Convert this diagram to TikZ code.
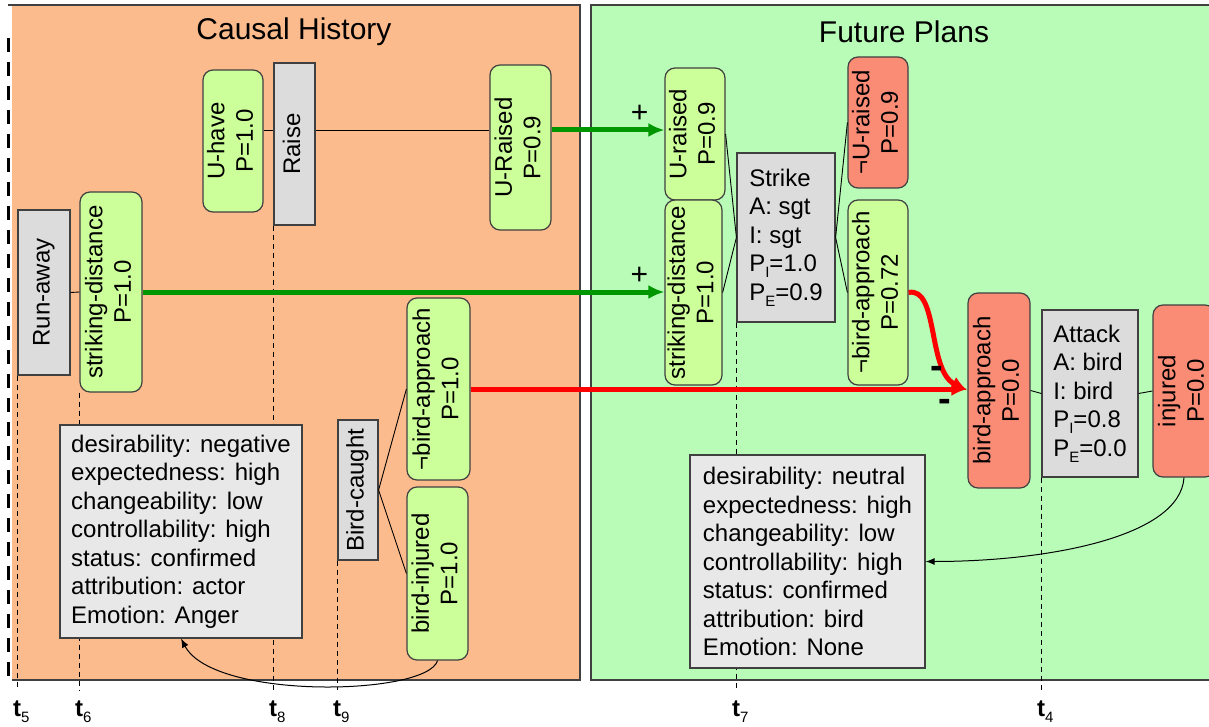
\documentclass[tikz,border=0pt]{standalone}
\usepackage{fontspec}
\setmainfont{Liberation Sans}
\usepackage{graphicx}
\usetikzlibrary{arrows.meta,calc}

\definecolor{histbg}{RGB}{252,187,141}
\definecolor{planbg}{RGB}{184,252,184}
\definecolor{condgreen}{RGB}{204,255,153}
\definecolor{condred}{RGB}{250,140,118}
\definecolor{actgray}{RGB}{220,220,220}
\definecolor{emogray}{RGB}{232,232,232}
\definecolor{posgreen}{RGB}{0,150,0}
\definecolor{edge}{RGB}{64,64,64}

\newcommand{\vtext}[1]{\rotatebox{90}{\begin{tabular}{@{}c@{}}#1\end{tabular}}}
\newcommand{\psub}[1]{P\raisebox{-0.45ex}{\fontsize{15}{15}\selectfont #1}}
\newcommand{\tsub}[1]{\textbf{t}\raisebox{-0.45ex}{\fontsize{15}{15}\selectfont #1}}

\tikzset{
  cond/.style={draw=edge, line width=1.2pt, rounded corners=10pt, fill=condgreen, inner sep=0pt},
  negcond/.style={cond, fill=condred},
  act/.style={draw=edge, line width=1.2pt, fill=actgray, inner sep=0pt},
  info/.style={act, align=left},
  emobox/.style={draw=edge, line width=1.2pt, fill=emogray, align=left, inner sep=0pt},
  link/.style={black, line width=0.9pt},
  tline/.style={black, line width=1pt, dash pattern=on 5pt off 4pt},
  tlab/.style={inner sep=0pt},
  posarrow/.style={posgreen, line width=5pt, -{Latex[length=16pt,width=14pt]}},
  negarrow/.style={red, line width=5pt, -{Latex[length=16pt,width=14pt]}},
  infarrow/.style={black, line width=1pt, -{Latex[length=9pt,width=7pt]}},
  plus/.style={black, inner sep=0pt, font=\fontsize{30}{30}\selectfont},
  sign/.style={black, inner sep=0pt, font=\fontsize{38}{38}\selectfont\bfseries}
}

\begin{document}
\begin{tikzpicture}[x=1pt, y=-1pt, font=\fontsize{24}{28.5}\selectfont]
\useasboundingbox (0,0) rectangle (1209,727);

\fill[histbg] (12,5) rectangle (580,680);
\draw[edge, line width=1.2pt] (8,5) -- (580,5) -- (580,680) -- (12,680);
\draw[line width=3pt, dash pattern=on 14pt off 10pt] (8,38) -- (8,680);
\fill[planbg] (591,5) rectangle (1215,680);
\draw[edge, line width=1.2pt] (1215,5) -- (591,5) -- (591,680) -- (1215,680);
\node[font=\fontsize{30}{36}\selectfont] (histtitle) at (294,32) {Causal History};
\node[font=\fontsize{30}{36}\selectfont] (plantitle) at (904,32) {Future Plans};

\node[cond, minimum width=60pt, minimum height=142pt] (uhave) at (233,141) {\vtext{U-have\\P=1.0}};
\node[act, minimum width=41pt, minimum height=162pt] (raise) at (294.5,144) {\vtext{Raise}};
\node[cond, minimum width=61pt, minimum height=165pt] (uraisedA) at (520.5,147.5) {\vtext{U-Raised\\P=0.9}};
\node[act, minimum width=52pt, minimum height=165pt] (runaway) at (44,292.5) {\vtext{Run-away}};
\node[cond, minimum width=62pt, minimum height=200pt] (strikingA) at (111,292) {\vtext{striking-distance\\P=1.0}};
\node[cond, minimum width=63pt, minimum height=182pt] (nbirdA) at (438.5,389) {\vtext{¬bird-approach\\P=1.0}};
\node[cond, minimum width=61pt, minimum height=173pt] (injuredA) at (437.5,573.5) {\vtext{bird-injured\\P=1.0}};
\node[act, minimum width=40pt, minimum height=140pt] (caught) at (358,490) {\vtext{Bird-caught}};

\node[cond, minimum width=60pt, minimum height=132pt] (uraisedB) at (695,134) {\vtext{U-raised\\P=0.9}};
\node[cond, minimum width=57pt, minimum height=185pt] (strikingB) at (693.5,292.5) {\vtext{striking-distance\\P=1.0}};
\node[info, minimum width=98pt, minimum height=169pt] (strike) at (786,237.5) {Strike\\A: sgt\\I: sgt\\\psub{I}=1.0\\\psub{E}=0.9};
\node[negcond, minimum width=60pt, minimum height=131pt] (nuraised) at (878,122.5) {\vtext{¬U-raised\\P=0.9}};
\node[cond, minimum width=60pt, minimum height=185pt] (nbirdB) at (878,292.5) {\vtext{¬bird-approach\\P=0.72}};
\node[negcond, minimum width=62pt, minimum height=195pt] (birdapB) at (999,390.5) {\vtext{bird-approach\\P=0.0}};
\node[info, minimum width=96pt, minimum height=167pt] (attack) at (1090,393.5) {Attack\\A: bird\\I: bird\\\psub{I}=0.8\\\psub{E}=0.0};
\node[negcond, minimum width=62pt, minimum height=172pt] (injuredB) at (1184,391) {\vtext{injured\\P=0.0}};

\coordinate (tbase) at (0,690);
\coordinate (hA) at (0,130);
\foreach \n/\k in {runaway/5, strikingA/6, raise/8, caught/9, strike/7, attack/4} {
  \draw[tline] (\n.south west) -- (\n.south west |- tbase);
  \node[tlab] (t\k) at ($(\n.south west |- tbase)+(4,22)$) {\tsub{\k}};
}

\draw[link] (uhave.east |- hA) -- (raise.west |- hA);
\draw[link] (raise.east |- hA) -- (uraisedA.west |- hA);
\draw[link] (runaway.east) -- (strikingA.west);
\draw[link] (caught.east) -- (nbirdA.west);
\draw[link] (caught.east) -- (injuredA.west);
\draw[link] (uraisedB.east) -- (strike.west);
\draw[link] (strikingB.east) -- (strike.west);
\draw[link] (strike.east) -- (nuraised.west);
\draw[link] (strike.east) -- (nbirdB.west);
\draw[link] (birdapB.east) -- (attack.west);
\draw[link] (attack.east) -- (injuredB.west);

\draw[posarrow] (uraisedA.east |- hA) -- (uraisedB.west |- hA) node[plus, pos=0.78, above=5pt] {+};
\draw[posarrow] (strikingA.east) -- (strikingB.west |- strikingA.east) node[plus, pos=0.952, above=5pt] {+};
\draw[negarrow] (nbirdA.east) -- (birdapB.west |- nbirdA.east) node[sign, pos=0.954, below=8pt] {-};
\draw[negarrow] (nbirdB.east) .. controls ($(nbirdB.east)+(30,-6)$) and ($(birdapB.west)+(-40,-20)$) .. (birdapB.west);
\node[sign] (minusB) at (937,372) {-};

\node[emobox, minimum width=242pt, minimum height=213pt] (emoA) at (181,531.5) {desirability: negative\\expectedness: high\\changeability: low\\controllability: high\\status: confirmed\\attribution: actor\\Emotion: Anger};
\node[emobox, minimum width=235pt, minimum height=213pt] (emoB) at (807.5,561.5) {desirability: neutral\\expectedness: high\\changeability: low\\controllability: high\\status: confirmed\\attribution: bird\\Emotion: None};

\draw[infarrow] (injuredA.south) .. controls ($(injuredA.south)+(-10,35)$) and ($(emoA.south)+(33,62)$) .. (emoA.south);
\draw[infarrow] (injuredB.south) .. controls ($(injuredB.south)+(-4,60)$) and ($(emoB.east)+(120,0)$) .. (emoB.east);
\end{tikzpicture}
\end{document}
